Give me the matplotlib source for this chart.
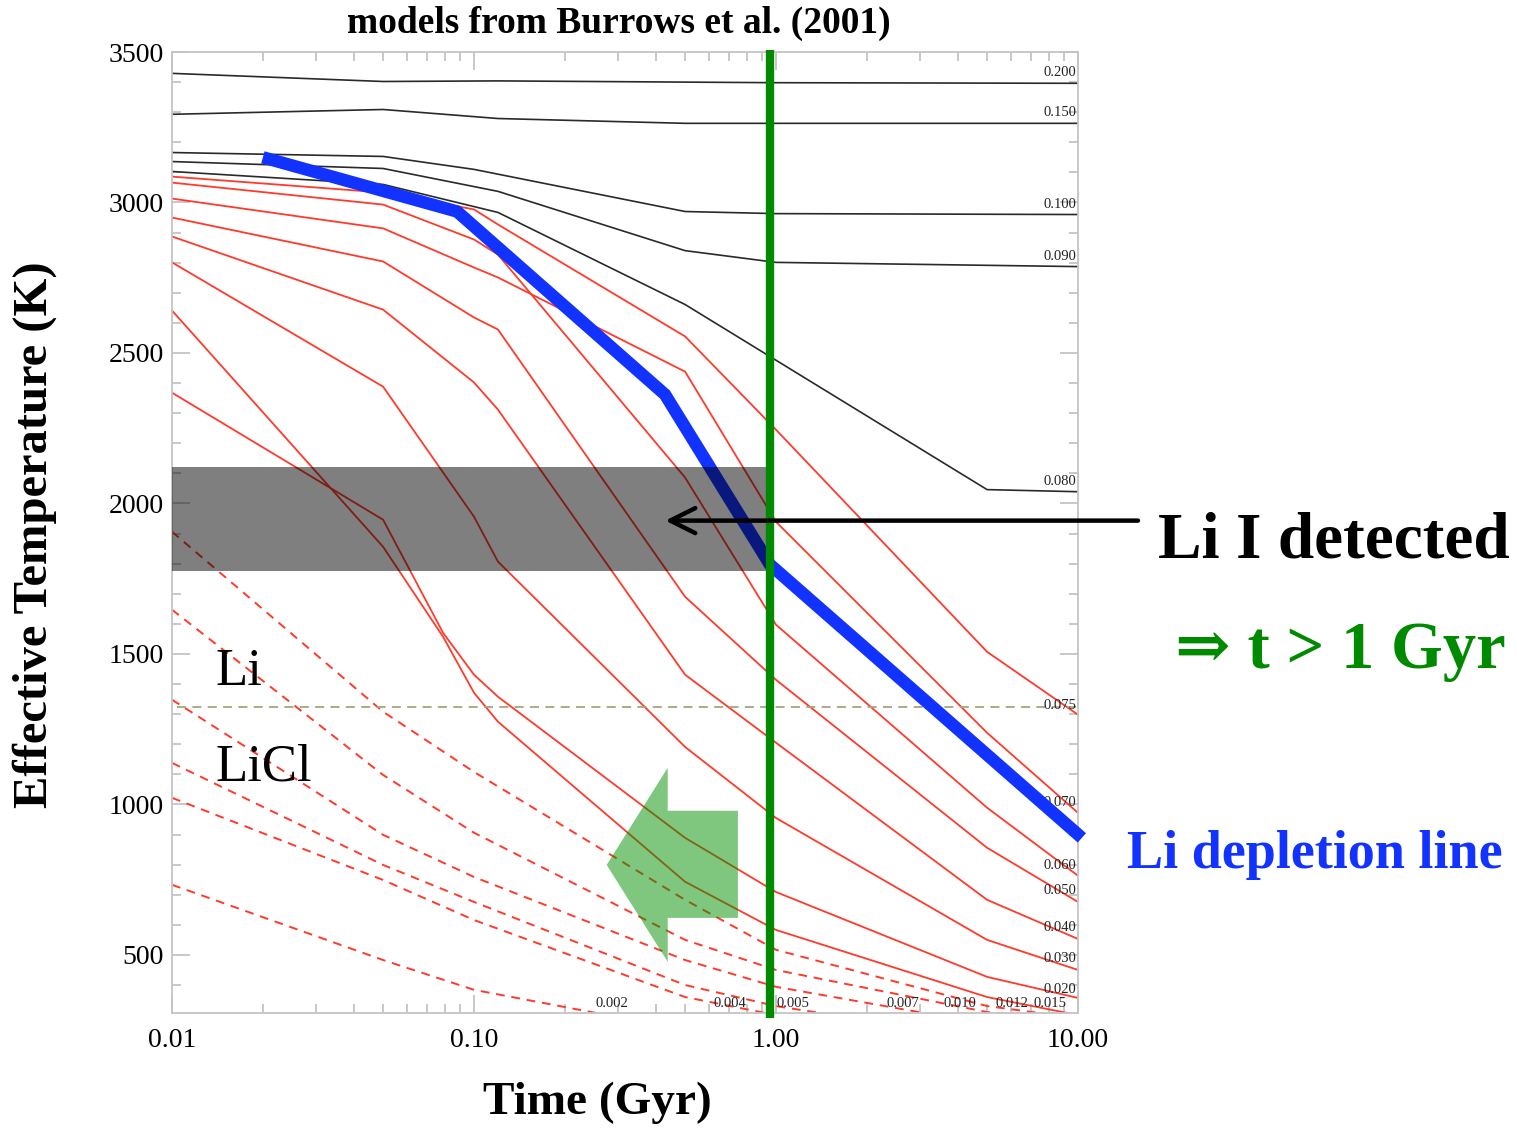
import matplotlib
matplotlib.use("Agg")
import matplotlib.pyplot as plt
from matplotlib.ticker import MultipleLocator, LogLocator, NullFormatter

plt.rcParams['font.family'] = ['Liberation Serif', 'DejaVu Serif']

# stellar tracks (black)
star_masses = ["0.200", "0.150", "0.100", "0.090", "0.080"]
star_times = [[0.01, 0.05, 0.12, 1.0, 10.0],
              [0.01, 0.05, 0.12, 0.5, 10.0],
              [0.01, 0.05, 0.1, 0.5, 1.0, 10.0],
              [0.01, 0.05, 0.12, 0.5, 1.0, 10.0],
              [0.01, 0.05, 0.12, 0.5, 5.0, 10.0]]
star_teff = [[3429, 3402, 3404, 3398, 3396],
             [3293, 3309, 3279, 3263, 3263],
             [3166, 3153, 3110, 2970, 2963, 2960],
             [3136, 3113, 3037, 2840, 2801, 2787],
             [3103, 3060, 2967, 2661, 2046, 2039]]
star_label_teff = [3432, 3299, 2993, 2820, 2072]

# brown dwarf tracks (red solid)
bd_masses = ["0.075", "0.070", "0.060", "0.050", "0.040", "0.030", "0.020", "0.015"]
bd_grid = [0.01, 0.05, 0.1, 0.12, 0.5, 1.0, 5.0, 10.0]
bd_times = [bd_grid, bd_grid, bd_grid, bd_grid, bd_grid, bd_grid,
            [0.01, 0.05, 0.079, 0.1, 0.12, 0.5, 1.0, 5.0, 10.0],
            [0.01, 0.05, 0.079, 0.1, 0.12, 0.5, 1.0, 5.0, 10.0]]
bd_teff = [[3086, 3033, 2977, 2927, 2555, 2245, 1507, 1298],
           [3013, 2914, 2784, 2751, 2438, 1939, 1238, 972],
           [3066, 2993, 2877, 2827, 2086, 1597, 989, 763],
           [2950, 2804, 2618, 2578, 1690, 1414, 856, 676],
           [2887, 2644, 2402, 2312, 1431, 1205, 683, 553],
           [2801, 2388, 1956, 1807, 1191, 955, 550, 450],
           [2368, 1946, 1570, 1431, 1358, 889, 709, 427, 357],
           [2641, 1856, 1557, 1371, 1275, 743, 583, 360, 300]]
bd_label_teff = [1328, 1005, 796, 713, 590, 487, 384]

# planetary-mass tracks (red dashed)
pl_masses = ["0.012", "0.010", "0.007", "0.005", "0.004", "0.002"]
pl_times = [[0.01, 0.05, 0.1, 0.5, 1.0, 5.0, 10.0],
            [0.01, 0.05, 0.1, 0.5, 1.0, 5.0, 10.0],
            [0.01, 0.05, 0.1, 0.5, 1.0, 5.0],
            [0.01, 0.05, 0.1, 0.5, 1.0, 5.0],
            [0.01, 0.05, 0.1, 0.5, 1.0, 5.0],
            [0.01, 0.05, 0.1, 0.5]]
pl_teff = [[1906, 1308, 1108, 683, 517, 330, 290],
           [1647, 1098, 906, 550, 450, 310, 284],
           [1348, 899, 759, 483, 394, 270],
           [1138, 799, 676, 400, 330, 220],
           [1022, 749, 616, 360, 300, 220],
           [733, 483, 384, 251]]
bottom_labels = ["0.002", "0.004", "0.005", "0.007", "0.010", "0.012", "0.015"]
bottom_label_t = [0.286, 0.705, 1.14, 2.64, 4.06, 6.04, 8.07]

# Li depletion line
li_t = [0.02, 0.0879, 0.429, 0.955, 10.3]
li_teff = [3150, 2970, 2362, 1797, 889]

li_band = (1777, 2122)
age_limit = 0.955
licl_teff = 1325

fig = plt.figure(figsize=(15.17, 11.31), dpi=100)
ax = fig.add_axes([172 / 1517, 118 / 1131, 906 / 1517, 961 / 1131])
ax.set_xscale('log')
ax.set_xlim(0.01, 10)
ax.set_ylim(307, 3500)

for m, t, T in zip(star_masses, star_times, star_teff):
    ax.plot(t, T, color='#2a2a2a', lw=1.2, zorder=2)
for m, t, T in zip(bd_masses, bd_times, bd_teff):
    ax.plot(t, T, color='#ff3a2a', lw=1.3, zorder=2)
for m, t, T in zip(pl_masses, pl_times, pl_teff):
    ax.plot(t, T, color='#ff3a2a', lw=1.4, dashes=(4.5, 3.5), zorder=2)

ax.axhline(licl_teff, xmin=0.006, color='#a8a57a', lw=1.3, dashes=(5, 3.5), zorder=2)

# mass labels
for m, T in zip(star_masses + bd_masses[:-1], star_label_teff + bd_label_teff):
    ax.text(9.85, T, m, ha='right', va='center', fontsize=10.5, color='#222222', zorder=3)
for m, t in zip(bottom_labels, bottom_label_t):
    ax.text(t, 337, m, ha='center', va='center', fontsize=10.5, color='#222222', zorder=3)

ax.plot(li_t, li_teff, color='#1232ff', lw=9, solid_capstyle='butt',
        solid_joinstyle='miter', clip_on=False, zorder=4)

ax.fill_between([0.01, age_limit], li_band[0], li_band[1], color='black', alpha=0.5,
                lw=0, zorder=5)

# green block arrow
arrow_t = [0.275, 0.438, 0.438, 0.748, 0.748, 0.438, 0.438]
arrow_T = [799, 1122, 979, 979, 623, 623, 477]
ax.fill(arrow_t, arrow_T, color='#009000', alpha=0.5, lw=0, zorder=5)

ax.plot([age_limit, age_limit], [290, 3505], color='#008a00', lw=6, clip_on=False,
        solid_capstyle='butt', zorder=6)

ax.annotate('', xy=(0.43, 1943), xytext=(15.8, 1943), annotation_clip=False,
            arrowprops=dict(arrowstyle='->,head_length=0.9,head_width=0.45',
                            lw=3.2, color='black', mutation_scale=20,
                            shrinkA=0, shrinkB=0), zorder=7)

ax.text(0.01388, 1398, 'Li', fontsize=38, va='baseline', zorder=7)
ax.text(0.01388, 1078, 'LiCl', fontsize=38, va='baseline', zorder=7)

# axes styling
ax.set_xticks([0.01, 0.1, 1, 10])
ax.set_xticklabels(['0.01', '0.10', '1.00', '10.00'])
ax.xaxis.set_minor_locator(LogLocator(base=10, subs=range(2, 10)))
ax.xaxis.set_minor_formatter(NullFormatter())
ax.set_yticks(range(500, 3501, 500))
ax.yaxis.set_minor_locator(MultipleLocator(100))
ax.tick_params(which='both', direction='in', top=True, right=True,
               color='#c4c4c4', width=1.3, labelsize=20)
ax.tick_params(which='major', length=13)
ax.tick_params(which='minor', length=6.5)
ax.tick_params(axis='x', pad=11)
ax.tick_params(axis='y', pad=6)
for s in ax.spines.values():
    s.set_color('#c4c4c4')
    s.set_linewidth(1.3)

fig.text(0.408, 0.979, 'models from Burrows et al. (2001)', ha='center', va='center',
         fontsize=27, fontweight='bold')
fig.text(0.023, 0.527, 'Effective Temperature (K)', rotation=90, ha='center',
         va='center', fontsize=35, fontweight='bold')
fig.text(0.394, 0.0248, 'Time (Gyr)', ha='center', va='center', fontsize=34,
         fontweight='bold')

fig.text(1158 / 1517, 0.5075, 'Li I detected', ha='left', va='baseline', fontsize=47,
         fontweight='bold', color='black')
fig.text(1175 / 1517, 0.4094, '⇒ t > 1 Gyr', ha='left', va='baseline', fontsize=48,
         fontweight='bold', color='#008a00')
fig.text(1127 / 1517, 0.2325, 'Li depletion line', ha='left', va='baseline', fontsize=39,
         fontweight='bold', color='#1232ff')

fig.savefig('out.png', dpi=100)
